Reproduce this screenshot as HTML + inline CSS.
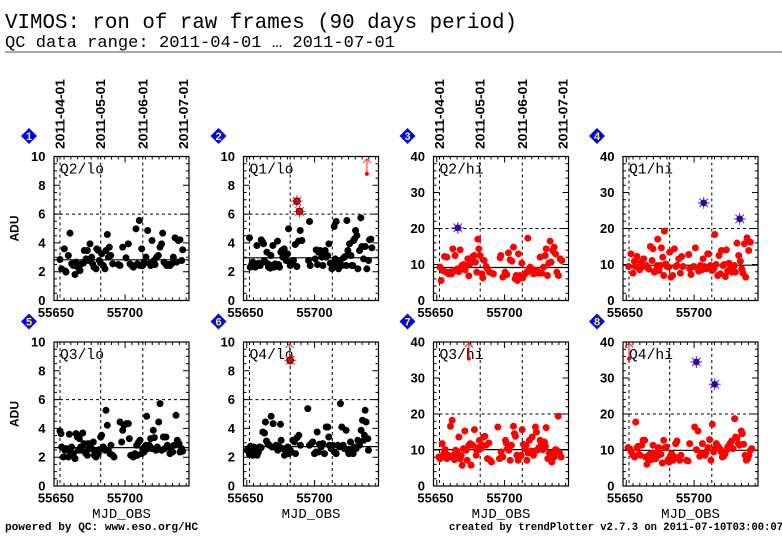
<!DOCTYPE html>
<html><head><meta charset="utf-8"><style>
html,body{margin:0;padding:0;background:#fff;}
svg{display:block;}
.tl{font-family:"Liberation Sans",sans-serif;font-weight:bold;font-size:13px;fill:#000;}
.mono{font-family:"Liberation Mono",monospace;fill:#000;}
.dn{font-family:"Liberation Sans",sans-serif;font-weight:bold;font-size:11px;fill:#ff0;}
</style></head><body>
<svg width="782" height="542" viewBox="0 0 782 542" xmlns="http://www.w3.org/2000/svg">
<rect width="782" height="542" fill="#fff"/>
<defs>
<g id="fx">
<rect x="0" y="0" width="135" height="144" fill="none" stroke="#000" stroke-width="1.2"/>
<path fill="none" stroke="#000" stroke-width="1" d="M3.26 144v-6M71.1 144v-6M3.26 0v6M71.1 0v6M10.04 144v-3M10.04 0v3M16.82 144v-3M16.82 0v3M23.61 144v-3M23.61 0v3M30.39 144v-3M30.39 0v3M37.18 144v-3M37.18 0v3M43.96 144v-3M43.96 0v3M50.74 144v-3M50.74 0v3M57.53 144v-3M57.53 0v3M64.31 144v-3M64.31 0v3M77.88 144v-3M77.88 0v3M84.66 144v-3M84.66 0v3M91.45 144v-3M91.45 0v3M98.23 144v-3M98.23 0v3M105.02 144v-3M105.02 0v3M111.8 144v-3M111.8 0v3M118.58 144v-3M118.58 0v3M125.37 144v-3M125.37 0v3M132.15 144v-3M132.15 0v3"/>
<path fill="none" stroke="#000" stroke-width="1" stroke-dasharray="3 3" d="M6 0V144M46.7 0V144M88.8 0V144"/>
</g>
<g id="lo">
<use href="#fx"/>
<path fill="none" stroke="#000" stroke-width="1" d="M0 115.2h6M135 115.2h-6M0 86.4h6M135 86.4h-6M0 57.6h6M135 57.6h-6M0 28.8h6M135 28.8h-6M0 136.8h3M135 136.8h-3M0 129.6h3M135 129.6h-3M0 122.4h3M135 122.4h-3M0 108h3M135 108h-3M0 100.8h3M135 100.8h-3M0 93.6h3M135 93.6h-3M0 79.2h3M135 79.2h-3M0 72h3M135 72h-3M0 64.8h3M135 64.8h-3M0 50.4h3M135 50.4h-3M0 43.2h3M135 43.2h-3M0 36h3M135 36h-3M0 21.6h3M135 21.6h-3M0 14.4h3M135 14.4h-3M0 7.2h3M135 7.2h-3"/>
<path fill="none" stroke="#000" stroke-width="1" stroke-dasharray="3 3" d="M0 57.6H135"/>
</g>
<g id="hi">
<use href="#fx"/>
<path fill="none" stroke="#000" stroke-width="1" d="M0 108h6M135 108h-6M0 72h6M135 72h-6M0 36h6M135 36h-6M0 136.8h3M135 136.8h-3M0 129.6h3M135 129.6h-3M0 122.4h3M135 122.4h-3M0 115.2h3M135 115.2h-3M0 100.8h3M135 100.8h-3M0 93.6h3M135 93.6h-3M0 86.4h3M135 86.4h-3M0 79.2h3M135 79.2h-3M0 64.8h3M135 64.8h-3M0 57.6h3M135 57.6h-3M0 50.4h3M135 50.4h-3M0 43.2h3M135 43.2h-3M0 28.8h3M135 28.8h-3M0 21.6h3M135 21.6h-3M0 14.4h3M135 14.4h-3M0 7.2h3M135 7.2h-3"/>
<path fill="none" stroke="#000" stroke-width="1" stroke-dasharray="3 3" d="M0 72H135"/>
</g>
</defs>

<!-- Title -->
<text class="mono" x="5" y="28" font-size="21" textLength="512" lengthAdjust="spacingAndGlyphs">VIMOS: ron of raw frames (90 days period)</text>
<text class="mono" x="5" y="47" font-size="17" textLength="390" lengthAdjust="spacingAndGlyphs">QC data range: 2011-04-01 … 2011-07-01</text>
<line x1="5" y1="52" x2="782" y2="52" stroke="#777" stroke-width="1.3"/>

<!-- Date labels -->
<g font-family="Liberation Sans, sans-serif" font-weight="bold" font-size="12.5" fill="#000">
<text transform="translate(64.5,149) rotate(-90)" textLength="70" lengthAdjust="spacingAndGlyphs">2011-04-01</text>
<text transform="translate(105.2,149) rotate(-90)" textLength="70" lengthAdjust="spacingAndGlyphs">2011-05-01</text>
<text transform="translate(147.3,149) rotate(-90)" textLength="70" lengthAdjust="spacingAndGlyphs">2011-06-01</text>
<text transform="translate(188,149) rotate(-90)" textLength="70" lengthAdjust="spacingAndGlyphs">2011-07-01</text>
<text transform="translate(444,149) rotate(-90)" textLength="70" lengthAdjust="spacingAndGlyphs">2011-04-01</text>
<text transform="translate(484.7,149) rotate(-90)" textLength="70" lengthAdjust="spacingAndGlyphs">2011-05-01</text>
<text transform="translate(526.8,149) rotate(-90)" textLength="70" lengthAdjust="spacingAndGlyphs">2011-06-01</text>
<text transform="translate(567.5,149) rotate(-90)" textLength="70" lengthAdjust="spacingAndGlyphs">2011-07-01</text>
</g>

<!-- Diamonds -->
<g fill="#0000ff">
<polygon points="29,128 37,136 29,144 21,136"/>
<polygon points="218.5,128 226.5,136 218.5,144 210.5,136"/>
<polygon points="407.5,128 415.5,136 407.5,144 399.5,136"/>
<polygon points="597,128 605,136 597,144 589,136"/>
<polygon points="29,313.5 37,321.5 29,329.5 21,321.5"/>
<polygon points="218.5,313.5 226.5,321.5 218.5,329.5 210.5,321.5"/>
<polygon points="407.5,313.5 415.5,321.5 407.5,329.5 399.5,321.5"/>
<polygon points="597,313.5 605,321.5 597,329.5 589,321.5"/>
</g>
<g class="dn" text-anchor="middle">
<text x="29" y="140">1</text><text x="218.5" y="140">2</text><text x="407.5" y="140">3</text><text x="597" y="140">4</text>
<text x="29" y="325.5">5</text><text x="218.5" y="325.5">6</text><text x="407.5" y="325.5">7</text><text x="597" y="325.5">8</text>
</g>

<!-- Frames -->
<use href="#lo" x="54" y="156.5"/>
<use href="#lo" x="243.5" y="156.5"/>
<use href="#hi" x="433.5" y="156.5"/>
<use href="#hi" x="623" y="156.5"/>
<use href="#lo" x="54" y="342"/>
<use href="#lo" x="243.5" y="342"/>
<use href="#hi" x="433.5" y="342"/>
<use href="#hi" x="623" y="342"/>

<!-- Median lines -->
<g stroke="#000" stroke-width="1.2">
<line x1="54" x2="189" y1="259.8" y2="259.8"/>
<line x1="243.5" x2="378.5" y1="257.8" y2="257.8"/>
<line x1="433.5" x2="568.5" y1="267.5" y2="267.5"/>
<line x1="623" x2="758" y1="265.2" y2="265.2"/>
<line x1="54" x2="189" y1="447.6" y2="447.6"/>
<line x1="243.5" x2="378.5" y1="446.6" y2="446.6"/>
<line x1="433.5" x2="568.5" y1="449.6" y2="449.6"/>
<line x1="623" x2="758" y1="450.3" y2="450.3"/>
</g>

<!-- Y tick labels -->
<g class="tl" text-anchor="end">
<text x="45.5" y="161">10</text><text x="45.5" y="189.8">8</text><text x="45.5" y="218.6">6</text><text x="45.5" y="247.4">4</text><text x="45.5" y="276.2">2</text><text x="45.5" y="305">0</text>
<text x="235" y="161">10</text><text x="235" y="189.8">8</text><text x="235" y="218.6">6</text><text x="235" y="247.4">4</text><text x="235" y="276.2">2</text><text x="235" y="305">0</text>
<text x="425" y="161">40</text><text x="425" y="197">30</text><text x="425" y="233">20</text><text x="425" y="269">10</text><text x="425" y="305">0</text>
<text x="614.5" y="161">40</text><text x="614.5" y="197">30</text><text x="614.5" y="233">20</text><text x="614.5" y="269">10</text><text x="614.5" y="305">0</text>
<text x="45.5" y="346.5">10</text><text x="45.5" y="375.3">8</text><text x="45.5" y="404.1">6</text><text x="45.5" y="432.9">4</text><text x="45.5" y="461.7">2</text><text x="45.5" y="490.5">0</text>
<text x="235" y="346.5">10</text><text x="235" y="375.3">8</text><text x="235" y="404.1">6</text><text x="235" y="432.9">4</text><text x="235" y="461.7">2</text><text x="235" y="490.5">0</text>
<text x="425" y="346.5">40</text><text x="425" y="382.5">30</text><text x="425" y="418.5">20</text><text x="425" y="454.5">10</text><text x="425" y="490.5">0</text>
<text x="614.5" y="346.5">40</text><text x="614.5" y="382.5">30</text><text x="614.5" y="418.5">20</text><text x="614.5" y="454.5">10</text><text x="614.5" y="490.5">0</text>
</g>
<!-- X tick labels -->
<g class="tl" text-anchor="middle">
<text x="56" y="317">55650</text><text x="125" y="317">55700</text>
<text x="245.5" y="317">55650</text><text x="314.5" y="317">55700</text>
<text x="435.5" y="317">55650</text><text x="504.5" y="317">55700</text>
<text x="625" y="317">55650</text><text x="694" y="317">55700</text>
<text x="56" y="502.5">55650</text><text x="125" y="502.5">55700</text>
<text x="245.5" y="502.5">55650</text><text x="314.5" y="502.5">55700</text>
<text x="435.5" y="502.5">55650</text><text x="504.5" y="502.5">55700</text>
<text x="625" y="502.5">55650</text><text x="694" y="502.5">55700</text>
</g>

<!-- Axis titles -->
<g font-family="Liberation Sans, sans-serif" font-weight="bold" font-size="12" fill="#000" text-anchor="middle">
<text transform="translate(18.3,228.5) rotate(-90)">ADU</text>
<text transform="translate(18.3,414) rotate(-90)">ADU</text>
</g>
<g class="mono" font-size="14" text-anchor="middle">
<text x="121.5" y="518">MJD_OBS</text>
<text x="311" y="518">MJD_OBS</text>
<text x="501" y="518">MJD_OBS</text>
<text x="690.5" y="518">MJD_OBS</text>
</g>

<!-- Panel labels -->
<g class="mono" font-size="15">
<text x="60" y="173.5" textLength="44" lengthAdjust="spacingAndGlyphs">Q2/lo</text>
<text x="249.5" y="173.5" textLength="44" lengthAdjust="spacingAndGlyphs">Q1/lo</text>
<text x="439.5" y="173.5" textLength="44" lengthAdjust="spacingAndGlyphs">Q2/hi</text>
<text x="629" y="173.5" textLength="44" lengthAdjust="spacingAndGlyphs">Q1/hi</text>
<text x="60" y="359" textLength="44" lengthAdjust="spacingAndGlyphs">Q3/lo</text>
<text x="249.5" y="359" textLength="44" lengthAdjust="spacingAndGlyphs">Q4/lo</text>
<text x="439.5" y="359" textLength="44" lengthAdjust="spacingAndGlyphs">Q3/hi</text>
<text x="629" y="359" textLength="44" lengthAdjust="spacingAndGlyphs">Q4/hi</text>
</g>

<!-- Panel 1 data -->
<g transform="translate(0,140.5) scale(0.33333)">
<path fill="none" stroke="#000" stroke-width="21" stroke-linecap="round" d="M180 357h.01M185 385h.01M197 392h.01M193 325h.01M198 395h.01M205 345h.01M210 278h.01M215 370h.01M220 375h.01M225 402h.01M228 365h.01M232 378h.01M237 385h.01M240 390h.01M245 370h.01M250 368h.01M253 330h.01M258 355h.01M262 330h.01M265 360h.01M270 310h.01M275 350h.01M278 370h.01M282 380h.01M288 385h.01M290 325h.01M295 330h.01M298 360h.01M302 368h.01M305 340h.01M310 375h.01M315 385h.01M318 330h.01M322 282h.01M325 350h.01M328 320h.01M332 345h.01M338 370h.01M355 372h.01M360 375h.01M368 320h.01M378 352h.01M385 310h.01M390 370h.01M395 375h.01M400 380h.01M405 375h.01M408 265h.01M412 370h.01M418 240h.01M420 375h.01M425 325h.01M428 375h.01M432 365h.01M438 350h.01M443 270h.01M448 370h.01M452 375h.01M456 300h.01M458 365h.01M462 360h.01M465 372h.01M470 350h.01M475 345h.01M480 320h.01M485 310h.01M488 278h.01M492 365h.01M496 370h.01M500 375h.01M505 372h.01M510 375h.01M515 370h.01M520 350h.01M525 292h.01M530 365h.01M535 300h.01M540 298h.01M545 360h.01M548 328h.01"/>
</g>

<!-- Panel 2 data -->
<g transform="translate(200.2,140.5) scale(0.33333)">
<path fill="none" stroke="#000" stroke-width="21" stroke-linecap="round" d="M148 292h.01M150 380h.01M155 370h.01M158 365h.01M162 378h.01M165 380h.01M170 315h.01M172 370h.01M175 368h.01M180 375h.01M183 298h.01M187 304h.01M190 310h.01M192 360h.01M196 365h.01M200 335h.01M203 370h.01M205 380h.01M210 383h.01M212 345h.01M215 375h.01M218 315h.01M222 380h.01M225 370h.01M228 375h.01M232 302h.01M235 372h.01M238 380h.01M242 335h.01M245 330h.01M248 350h.01M252 325h.01M255 340h.01M258 360h.01M262 340h.01M265 265h.01M270 375h.01M273 370h.01M276 365h.01M280 360h.01M285 312h.01M290 378h.01M295 302h.01M300 270h.01M305 300h.01M328 243h.01M325 360h.01M330 375h.01M345 355h.01M348 328h.01M352 372h.01M355 335h.01M360 330h.01M365 350h.01M368 375h.01M372 345h.01M375 330h.01M378 350h.01M382 345h.01M386 310h.01M390 368h.01M395 385h.01M400 375h.01M402 258h.01M405 355h.01M408 243h.01M412 368h.01M415 385h.01M420 360h.01M425 375h.01M430 352h.01M435 348h.01M438 375h.01M440 240h.01M443 330h.01M448 310h.01M452 345h.01M455 375h.01M458 375h.01M460 300h.01M463 295h.01M466 270h.01M470 285h.01M473 385h.01M478 330h.01M482 232h.01M485 318h.01M490 355h.01M495 318h.01M500 385h.01M505 360h.01M508 298h.01M512 296h.01M515 322h.01"/>
<g stroke="#ff2020" stroke-width="3" fill="none">
<path d="M272 182h36M290 164v36M277 169l26 26M303 169l-26 26M280 213h36M298 195v36M285 200l26 26M311 200l-26 26"/>
<path d="M500 100V55M488 68L500 55L512 68"/>
</g>
<circle cx="290" cy="182" r="10" fill="#cc1010" stroke="#500" stroke-width="3"/>
<circle cx="298" cy="213" r="10" fill="#cc1010" stroke="#500" stroke-width="3"/>
<circle cx="500" cy="100" r="6" fill="#ff0000"/>
</g>

<!-- Panel 3 data -->
<g transform="translate(396.8,140.5) scale(0.33333)">
<path fill="none" stroke="#ff0000" stroke-width="21" stroke-linecap="round" d="M130 380h.01M133 420h.01M138 390h.01M143 348h.01M148 395h.01M150 350h.01M155 400h.01M160 395h.01M165 400h.01M168 325h.01M172 390h.01M175 345h.01M178 390h.01M182 385h.01M186 393h.01M190 328h.01M195 375h.01M198 385h.01M200 372h.01M205 388h.01M210 375h.01M213 355h.01M216 406h.01M220 370h.01M225 360h.01M228 348h.01M232 345h.01M236 365h.01M240 395h.01M243 296h.01M246 325h.01M250 345h.01M255 400h.01M258 412h.01M262 360h.01M268 378h.01M272 385h.01M278 395h.01M285 398h.01M290 400h.01M310 352h.01M312 345h.01M318 410h.01M325 395h.01M330 402h.01M335 337h.01M340 358h.01M345 362h.01M350 320h.01M355 415h.01M358 405h.01M362 420h.01M365 340h.01M370 405h.01M375 368h.01M378 412h.01M385 400h.01M390 395h.01M393 293h.01M397 385h.01M400 380h.01M405 385h.01M410 400h.01M415 395h.01M420 390h.01M425 398h.01M430 350h.01M435 398h.01M440 380h.01M445 345h.01M448 325h.01M452 405h.01M456 368h.01M460 302h.01M463 365h.01M468 330h.01M472 320h.01M476 340h.01M480 395h.01M485 405h.01M490 355h.01M495 360h.01"/>
<path stroke="#3030ff" stroke-width="3" fill="none" d="M165 262h36M183 244v36M170 249l26 26M196 249l-26 26"/>
<circle cx="183" cy="262" r="10" fill="#40008a"/>
</g>

<!-- Panel 4 data -->
<g transform="translate(583.7,140.5) scale(0.33333)">
<path fill="none" stroke="#ff0000" stroke-width="21" stroke-linecap="round" d="M135 378h.01M142 340h.01M148 398h.01M152 362h.01M155 378h.01M160 348h.01M165 380h.01M168 388h.01M172 365h.01M176 378h.01M180 355h.01M185 378h.01M188 375h.01M192 382h.01M196 386h.01M200 318h.01M205 360h.01M208 325h.01M212 395h.01M216 390h.01M220 375h.01M222 296h.01M226 390h.01M230 375h.01M233 322h.01M237 350h.01M240 405h.01M242 272h.01M246 370h.01M250 378h.01M255 380h.01M258 335h.01M262 410h.01M267 405h.01M272 325h.01M276 378h.01M280 375h.01M285 355h.01M290 398h.01M294 348h.01M298 378h.01M315 342h.01M318 385h.01M322 402h.01M330 378h.01M335 322h.01M340 382h.01M345 392h.01M350 375h.01M355 388h.01M358 355h.01M362 378h.01M368 385h.01M372 340h.01M375 340h.01M380 375h.01M385 390h.01M390 385h.01M393 282h.01M397 372h.01M402 405h.01M406 345h.01M410 400h.01M413 330h.01M418 375h.01M422 372h.01M425 408h.01M428 328h.01M432 392h.01M436 368h.01M440 385h.01M444 395h.01M448 388h.01M452 375h.01M455 395h.01M460 308h.01M465 345h.01M470 362h.01M474 385h.01M478 398h.01M482 310h.01M486 410h.01M490 292h.01M495 330h.01M500 305h.01"/>
<path stroke="#3030ff" stroke-width="3" fill="none" d="M342 187h36M360 169v36M347 174l26 26M373 174l-26 26M450 235h36M468 217v36M455 222l26 26M481 222l-26 26"/>
<circle cx="360" cy="187" r="10" fill="#40008a"/>
<circle cx="468" cy="235" r="10" fill="#40008a"/>
</g>

<!-- Panel 5 data -->
<g transform="translate(0,330.3) scale(0.33333)">
<path fill="none" stroke="#000" stroke-width="21" stroke-linecap="round" d="M180 302h.01M183 310h.01M185 350h.01M190 380h.01M195 360h.01M200 355h.01M205 380h.01M208 312h.01M212 365h.01M215 350h.01M220 370h.01M225 385h.01M228 310h.01M232 320h.01M235 360h.01M238 325h.01M242 350h.01M245 360h.01M248 308h.01M252 340h.01M255 365h.01M258 370h.01M262 375h.01M265 340h.01M268 355h.01M272 355h.01M275 355h.01M280 335h.01M283 375h.01M285 365h.01M288 380h.01M292 360h.01M295 370h.01M298 358h.01M302 320h.01M305 315h.01M310 350h.01M315 360h.01M318 240h.01M322 285h.01M325 360h.01M330 370h.01M333 345h.01M338 375h.01M342 380h.01M360 275h.01M365 335h.01M368 300h.01M372 285h.01M380 280h.01M385 280h.01M388 325h.01M392 375h.01M395 375h.01M400 380h.01M405 370h.01M410 345h.01M412 375h.01M416 335h.01M420 330h.01M425 370h.01M428 355h.01M432 365h.01M438 345h.01M440 258h.01M443 355h.01M448 345h.01M452 325h.01M457 355h.01M460 300h.01M463 322h.01M468 360h.01M472 350h.01M476 275h.01M480 220h.01M485 360h.01M490 320h.01M494 355h.01M498 320h.01M502 345h.01M505 350h.01M510 370h.01M515 350h.01M518 365h.01M522 345h.01M528 255h.01M532 330h.01M537 340h.01M540 365h.01M545 355h.01M548 363h.01"/>
</g>

<!-- Panel 6 data -->
<g transform="translate(-2.2,330.3) scale(0.33333)">
<path fill="none" stroke="#000" stroke-width="21" stroke-linecap="round" d="M748 360h.01M752 355h.01M755 372h.01M758 348h.01M762 360h.01M765 375h.01M768 350h.01M772 370h.01M775 362h.01M778 375h.01M782 365h.01M785 350h.01M790 352h.01M795 305h.01M800 308h.01M803 275h.01M806 332h.01M810 340h.01M815 345h.01M820 258h.01M823 350h.01M826 280h.01M830 350h.01M835 345h.01M840 360h.01M845 350h.01M848 282h.01M850 330h.01M855 355h.01M860 375h.01M865 360h.01M870 350h.01M873 370h.01M878 360h.01M885 330h.01M890 335h.01M893 370h.01M898 322h.01M903 315h.01M908 345h.01M930 235h.01M935 345h.01M940 340h.01M945 335h.01M950 370h.01M955 365h.01M958 305h.01M962 365h.01M965 342h.01M970 350h.01M975 340h.01M980 370h.01M985 290h.01M990 290h.01M993 320h.01M995 345h.01M1000 355h.01M1005 345h.01M1010 365h.01M1015 370h.01M1020 345h.01M1025 350h.01M1028 220h.01M1032 290h.01M1036 345h.01M1040 355h.01M1045 300h.01M1050 360h.01M1053 370h.01M1058 335h.01M1062 360h.01M1066 370h.01M1070 350h.01M1075 355h.01M1080 330h.01M1085 345h.01M1090 300h.01M1094 270h.01M1098 330h.01M1100 315h.01M1102 240h.01M1105 275h.01M1110 325h.01M1112 360h.01"/>
<g stroke="#ff2020" stroke-width="3" fill="none">
<path d="M875 85V40M863 53L875 40L887 53"/>
<path d="M859 90h36M877 72v36M864 77l26 26M890 77l-26 26"/>
</g>
<circle cx="877" cy="90" r="10" fill="#cc1010" stroke="#500" stroke-width="3"/>
</g>

<!-- Panel 7 data -->
<g transform="translate(382.8,330.3) scale(0.33333)">
<path fill="none" stroke="#ff0000" stroke-width="21" stroke-linecap="round" d="M168 380h.01M172 385h.01M178 340h.01M183 370h.01M187 358h.01M192 385h.01M196 375h.01M200 380h.01M203 288h.01M208 270h.01M212 375h.01M215 388h.01M218 360h.01M222 362h.01M225 370h.01M228 320h.01M232 385h.01M235 375h.01M238 405h.01M242 355h.01M246 302h.01M250 360h.01M253 390h.01M258 345h.01M262 340h.01M265 405h.01M270 345h.01M275 298h.01M280 375h.01M282 360h.01M286 352h.01M290 330h.01M294 355h.01M298 345h.01M302 320h.01M306 318h.01M310 345h.01M314 385h.01M318 338h.01M322 390h.01M326 395h.01M345 290h.01M350 385h.01M355 365h.01M360 380h.01M368 330h.01M370 338h.01M374 355h.01M378 360h.01M382 390h.01M386 345h.01M392 288h.01M395 310h.01M398 318h.01M402 375h.01M406 390h.01M410 380h.01M415 375h.01M418 298h.01M422 342h.01M426 355h.01M430 345h.01M432 390h.01M436 368h.01M440 330h.01M444 362h.01M448 320h.01M452 375h.01M455 362h.01M458 290h.01M461 305h.01M464 360h.01M468 352h.01M472 330h.01M476 340h.01M480 358h.01M485 335h.01M488 348h.01M490 292h.01M495 385h.01M500 368h.01M503 375h.01M507 395h.01M510 368h.01M514 380h.01M518 358h.01M522 360h.01M526 258h.01M530 368h.01M535 380h.01"/>
<path stroke="#ff0000" stroke-width="3" fill="none" d="M258 85V38M246 51L258 38L270 51"/>
<circle cx="258" cy="85" r="6" fill="#ff0000"/>
</g>

<!-- Panel 8 data -->
<g transform="translate(383,330.3) scale(0.33333)">
<path fill="none" stroke="#ff0000" stroke-width="21" stroke-linecap="round" d="M735 352h.01M740 355h.01M745 365h.01M750 375h.01M755 380h.01M758 275h.01M762 352h.01M765 348h.01M768 372h.01M772 375h.01M776 345h.01M780 330h.01M785 330h.01M788 380h.01M792 402h.01M795 385h.01M800 372h.01M805 388h.01M810 345h.01M813 368h.01M818 385h.01M822 378h.01M826 352h.01M830 370h.01M834 372h.01M838 398h.01M842 330h.01M846 352h.01M850 350h.01M855 388h.01M858 395h.01M862 378h.01M866 370h.01M870 390h.01M874 380h.01M878 340h.01M882 332h.01M886 382h.01M890 390h.01M894 375h.01M910 390h.01M915 392h.01M920 340h.01M935 290h.01M940 358h.01M945 302h.01M950 378h.01M955 370h.01M958 340h.01M962 372h.01M966 375h.01M970 365h.01M975 352h.01M980 328h.01M984 390h.01M988 282h.01M992 365h.01M996 355h.01M1000 340h.01M1005 348h.01M1010 355h.01M1015 365h.01M1018 380h.01M1022 378h.01M1026 372h.01M1030 360h.01M1034 350h.01M1038 345h.01M1042 338h.01M1046 332h.01M1050 355h.01M1055 265h.01M1058 320h.01M1062 322h.01M1066 340h.01M1070 345h.01M1075 302h.01M1078 310h.01M1082 342h.01M1086 375h.01M1090 390h.01M1094 385h.01M1098 375h.01M1102 360h.01M1106 355h.01"/>
<path stroke="#ff0000" stroke-width="3" fill="none" d="M738 85V38M726 51L738 38L750 51"/>
<circle cx="738" cy="85" r="6" fill="#ff0000"/>
<path stroke="#3030ff" stroke-width="3" fill="none" d="M922 95h36M940 77v36M927 82l26 26M953 82l-26 26M977 162h36M995 144v36M982 149l26 26M1008 149l-26 26"/>
<circle cx="940" cy="95" r="10" fill="#40008a"/>
<circle cx="995" cy="162" r="10" fill="#40008a"/>
</g>

<!-- Footer -->
<text class="mono" x="5" y="530" font-size="11" font-weight="bold" textLength="193" lengthAdjust="spacingAndGlyphs">powered by QC: www.eso.org/HC</text>
<text class="mono" x="449" y="530" font-size="11" font-weight="bold" textLength="334" lengthAdjust="spacingAndGlyphs">created by trendPlotter v2.7.3 on 2011-07-10T03:00:07</text>
</svg>
</body></html>
